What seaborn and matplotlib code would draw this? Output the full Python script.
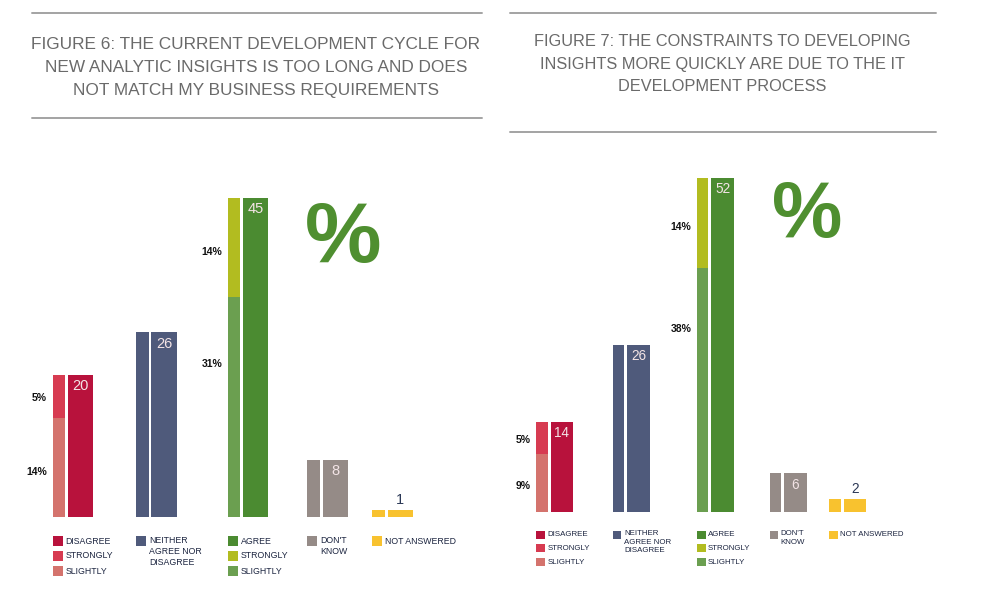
import numpy as np
import matplotlib
matplotlib.use('Agg')
import matplotlib.pyplot as plt
import matplotlib.transforms as mtransforms
from matplotlib.patches import Rectangle
import seaborn as sns

# ---------------- data ----------------
categories = ['Disagree', 'Neither', 'Agree', "Don't know", 'Not answered']

fig6_total = [20, 26, 45, 8, 1]
fig6_slightly = [14, None, 31, None, None]
fig6_strongly = [5, None, 14, None, None]

fig7_total = [14, 26, 52, 6, 2]
fig7_slightly = [9, None, 38, None, None]
fig7_strongly = [5, None, 14, None, None]

fig6_title = ("FIGURE 6: THE CURRENT DEVELOPMENT CYCLE FOR\n"
              "NEW ANALYTIC INSIGHTS IS TOO LONG AND DOES\n"
              "NOT MATCH MY BUSINESS REQUIREMENTS")
fig7_title = ("FIGURE 7: THE CONSTRAINTS TO DEVELOPING\n"
              "INSIGHTS MORE QUICKLY ARE DUE TO THE IT\n"
              "DEVELOPMENT PROCESS")

legend_labels = [['DISAGREE', 'STRONGLY', 'SLIGHTLY'],
                 ['NEITHER\nAGREE NOR\nDISAGREE'],
                 ['AGREE', 'STRONGLY', 'SLIGHTLY'],
                 ["DON'T\nKNOW"],
                 ['NOT ANSWERED']]

# ---------------- style ----------------
MAIN = ['#b8123c', '#4f5a7b', '#4b8b31', '#958b87', '#f8c22f']
STRONG = {0: '#d73b51', 2: '#b2bc20'}
SLIGHT = {0: '#d4736d', 2: '#6b9f50'}
PCT_GREEN = '#4f8f30'
TITLE_GRAY = '#6a6a6a'
RULE_GRAY = '#a3a3a3'
LEGEND_TXT = '#1c2540'

GROUP_POS = np.array([0, 1, 2.1, 3.05, 3.83])   # layout of the five groups
WIDE_W = 0.30
NARROW_W = 0.15
NARROW_OFF = -0.26

sns.set_theme(style='white')
plt.rcParams['font.family'] = ['Liberation Sans', 'DejaVu Sans']

W, H = 1003, 607
fig = plt.figure(figsize=(W / 100, H / 100), dpi=100)


def fx(px):
    return px / W


def fy(py):
    return 1 - py / H


def draw_panel(ax, total, slightly, strongly, val_fs, legend_rows, sw_px, leg_fs):
    palette = dict(zip(categories, MAIN))
    min_gap = np.min(np.diff(GROUP_POS))
    sns.barplot(x=GROUP_POS, y=total, hue=categories, palette=palette,
                native_scale=True, width=WIDE_W / min_gap, saturation=1,
                errorbar=None, legend=False, linewidth=0, ax=ax)

    xn = GROUP_POS + NARROW_OFF
    for i, t in enumerate(total):
        if slightly[i] is None:
            ax.bar(xn[i], t, NARROW_W, color=MAIN[i], linewidth=0)
        else:
            ax.bar(xn[i], slightly[i], NARROW_W, color=SLIGHT[i], linewidth=0)
            ax.bar(xn[i], t - slightly[i], NARROW_W, bottom=slightly[i],
                   color=STRONG[i], linewidth=0)
            # percentage labels left of the narrow bar
            seg_s = t - slightly[i]
            ys = t - min(seg_s * 0.55, 9.5)
            yl = slightly[i] - min(slightly[i] * 0.55, 9.5)
            for yy, lab in [(ys, strongly[i]), (yl, slightly[i])]:
                ax.annotate(f'{lab}%', (xn[i] - NARROW_W / 2, yy),
                            xytext=(-4, 0), textcoords='offset points',
                            ha='right', va='center', fontsize=7.5,
                            fontweight='bold', color='#111111',
                            annotation_clip=False)

    # values on the wide bars
    for i, t in enumerate(total):
        if i == len(total) - 1:
            ax.annotate(f'{t}', (GROUP_POS[i], t), xytext=(0, 2),
                        textcoords='offset points', ha='center', va='bottom',
                        fontsize=val_fs, color='#2b3856')
        else:
            ax.annotate(f'{t}', (GROUP_POS[i], t), xytext=(0, -3),
                        textcoords='offset points', ha='center', va='top',
                        fontsize=val_fs, color='#f3e4e6')

    # legend under each group
    trans = mtransforms.blended_transform_factory(ax.transData, fig.transFigure)
    sw_w = sw_px / (ax.bbox.width / (ax.get_xlim()[1] - ax.get_xlim()[0]))
    for i, labels in enumerate(legend_labels):
        x0 = xn[i] - NARROW_W / 2
        if len(labels) == 3:
            cols = [MAIN[i], STRONG[i], SLIGHT[i]]
        else:
            cols = [MAIN[i]]
        for r, (lab, c) in enumerate(zip(labels, cols)):
            yc = legend_rows[r]
            ax.add_patch(Rectangle((x0, fy(yc + sw_px / 2)), sw_w, sw_px / H,
                                   transform=trans, color=c, clip_on=False,
                                   linewidth=0))
            if '\n' in lab:
                ax.text(x0 + sw_w * 1.3, fy(yc - 5), lab, transform=trans,
                        ha='left', va='top', fontsize=leg_fs, color=LEGEND_TXT,
                        linespacing=1.3, clip_on=False)
            else:
                ax.text(x0 + sw_w * 1.3, fy(yc), lab, transform=trans,
                        ha='left', va='center', fontsize=leg_fs,
                        color=LEGEND_TXT, clip_on=False)

    ax.set_xlim(-0.9, 5.0)
    ax.set_ylim(0, 60)
    ax.axis('off')


# left panel: baseline at 517 px, 7.1 px per unit, 83.5 px per group step
ax1 = fig.add_axes([fx(80.5 - 0.9 * 83.5), fy(517), fx(5.9 * 83.5), 60 * 7.1 / H])
ax1.set_xlim(-0.9, 5.0)
draw_panel(ax1, fig6_total, fig6_slightly, fig6_strongly, 10.5,
           [541, 556, 571], 10, 6.3)

# right panel: baseline at 512 px, 6.43 px per unit, 76.5 px per group step
ax2 = fig.add_axes([fx(562 - 0.9 * 76.5), fy(512), fx(5.9 * 76.5), 60 * 6.43 / H])
ax2.set_xlim(-0.9, 5.0)
draw_panel(ax2, fig7_total, fig7_slightly, fig7_strongly, 9.8,
           [535, 548, 562], 8.5, 5.7)

# titles and rules
fig.text(fx(256), fy(67.5), fig6_title, ha='center', va='center', fontsize=12.4,
         color=TITLE_GRAY, linespacing=1.7)
fig.text(fx(722), fy(64), fig7_title, ha='center', va='center', fontsize=11.8,
         color=TITLE_GRAY, linespacing=1.62)
for x0, x1, y in [(31.7, 481.7, 13.3), (31.7, 481.7, 118.3),
                  (510, 936, 12.7), (510, 936, 131.7)]:
    fig.add_artist(plt.Line2D([fx(x0), fx(x1)], [fy(y), fy(y)], color=RULE_GRAY,
                              linewidth=1.4, transform=fig.transFigure))

# big percent signs
fig.text(fx(343), fy(240), '%', ha='center', va='center', fontsize=62,
         fontweight='bold', color=PCT_GREEN)
fig.text(fx(807), fy(216), '%', ha='center', va='center', fontsize=57,
         fontweight='bold', color=PCT_GREEN)

fig.savefig('out.png', dpi=100, facecolor='white')
